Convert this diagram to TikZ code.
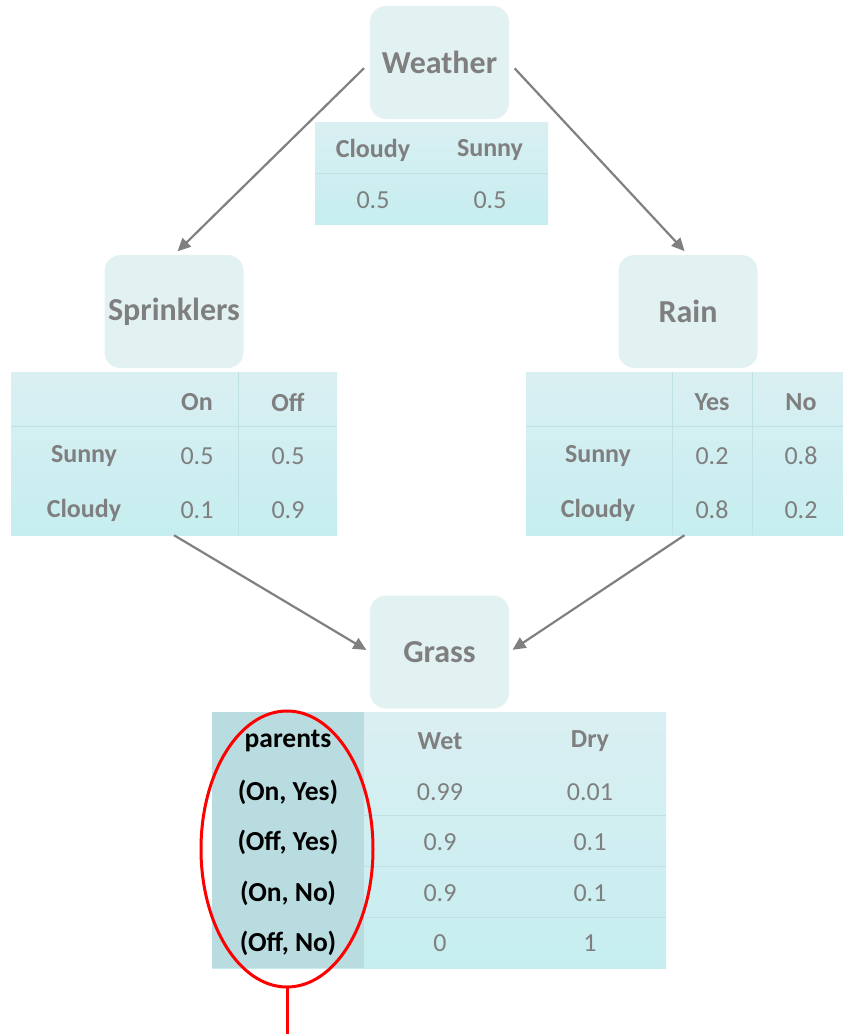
\documentclass[tikz,border=0pt]{standalone}
\usepackage{fontspec}
\setmainfont{Carlito}
\usetikzlibrary{arrows.meta}
\definecolor{boxfill}{HTML}{E2F1F2}
\definecolor{tabtop}{HTML}{DAEFF2}
\definecolor{tabbot}{HTML}{C6EEF0}
\definecolor{parcol}{HTML}{B9DCE0}
\definecolor{txtgray}{HTML}{7F7F7F}
\definecolor{rulecol}{HTML}{BEE1E4}
\definecolor{linkgray}{HTML}{808080}
\begin{document}
\begin{tikzpicture}[x=1pt,y=-1pt,
  varbox/.style={rounded corners=16pt, fill=boxfill, minimum width=139pt,
    minimum height=113pt, inner sep=0pt, text=txtgray,
    font=\fontsize{32}{35}\selectfont\bfseries},
  cpt/.style={top color=tabtop, bottom color=tabbot, inner sep=0pt},
  head/.style={text=txtgray, font=\fontsize{26}{29}\selectfont\bfseries},
  val/.style={text=txtgray, font=\fontsize{26}{29}\selectfont},
  par/.style={text=black, font=\fontsize{27.5}{30}\selectfont\bfseries},
  grid/.style={draw=rulecol, line width=1pt},
  link/.style={draw=linkgray, line width=2.2pt,
    -{Triangle[length=13pt,width=12pt]}}]
\useasboundingbox (0,0) rectangle (843,1034);

% variable boxes
\node[varbox] (weather) at (439.5,62.5) {Weather};
\node[varbox] (sprk) at (174,311.5) {Sprinklers};
\node[varbox] (rain) at (688,311.5) {Rain};
\node[varbox] (grass) at (439.5,652) {Grass};

% Weather table
\node[cpt, minimum width=233pt, minimum height=102pt] (wtab) at (431.5,173) {};
\draw[grid] (315,173) -- (548,173);
\node[head] (wc) at (373,150) {Cloudy};
\node[head] (ws) at (490,150) {Sunny};
\node[val] (wv1) at (373,200) {0.5};
\node[val] (wv2) at (490,200) {0.5};

% Sprinklers table
\node[cpt, minimum width=326pt, minimum height=163pt] (stab) at (174,453.5) {};
\draw[grid] (11,426) -- (337,426);
\draw[grid] (238,372) -- (238,535);
\node[head] (son) at (197,402) {On};
\node[head] (soff) at (288,402) {Off};
\node[head] (ssun) at (84,456) {Sunny};
\node[head] (scl) at (84,510) {Cloudy};
\node[val] at (197,456) {0.5};
\node[val] at (288,456) {0.5};
\node[val] at (197,510) {0.1};
\node[val] at (288,510) {0.9};

% Rain table
\node[cpt, minimum width=317pt, minimum height=163pt] (rtab) at (684.5,453.5) {};
\draw[grid] (526,426) -- (843,426);
\draw[grid] (672,372) -- (672,535);
\draw[grid] (752,372) -- (752,535);
\node[head] (ryes) at (712,402) {Yes};
\node[head] (rno) at (801,402) {No};
\node[head] (rsun) at (598,456) {Sunny};
\node[head] (rcl) at (598,510) {Cloudy};
\node[val] at (712,456) {0.2};
\node[val] at (801,456) {0.8};
\node[val] at (712,510) {0.8};
\node[val] at (801,510) {0.2};

% Grass table
\node[cpt, minimum width=454pt, minimum height=256pt] (gtab) at (439,840) {};
\fill[parcol] (212,712) rectangle (364,968);
\foreach \yy in {815,866,917} \draw[grid] (364,\yy) -- (666,\yy);
\node[par] at (288,741) {parents};
\node[par] at (288,792) {(On, Yes)};
\node[par] at (288,842) {(Off, Yes)};
\node[par] at (288,893) {(On, No)};
\node[par] at (288,943) {(Off, No)};
\node[head] at (440,741) {Wet};
\node[head] at (590,741) {Dry};
\node[val] at (440,792) {0.99};
\node[val] at (590,792) {0.01};
\node[val] at (440,842) {0.9};
\node[val] at (590,842) {0.1};
\node[val] at (440,893) {0.9};
\node[val] at (590,893) {0.1};
\node[val] at (440,943) {0};
\node[val] at (590,943) {1};

% highlight of the parents column
\draw[red, line width=3pt] (287,849) ellipse [x radius=86pt, y radius=138pt];
\coordinate (hl) at (287,987);
\coordinate (hlend) at (287,1034);
\draw[red, line width=3pt] (hl) -- (hlend);

% dependencies
\draw[link, shorten <=8pt, shorten >=5pt] (weather.west) -- (sprk.north);
\draw[link, shorten <=8pt, shorten >=5pt] (weather.east) -- (rain.north);
\draw[link, shorten >=4pt] (stab.south) -- (grass.west);
\draw[link, shorten >=4pt] (rtab.south) -- (grass.east);
\end{tikzpicture}
\end{document}
